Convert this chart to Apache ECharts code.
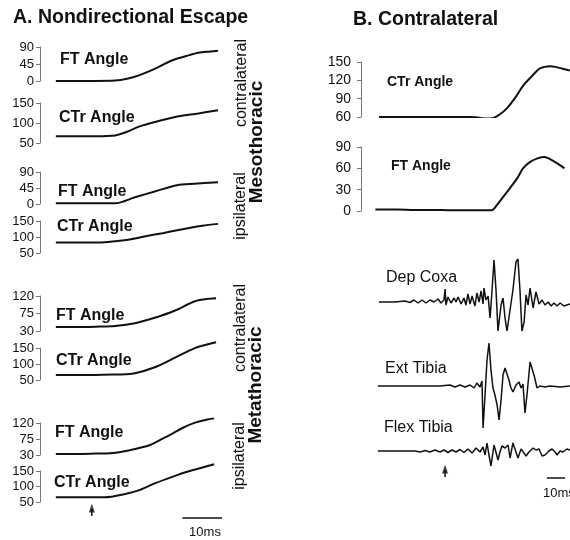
<!DOCTYPE html>
<html><head><meta charset="utf-8">
<script src="https://cdn.jsdelivr.net/npm/echarts/dist/echarts.min.js"></script>
<style>html,body{margin:0;padding:0;background:#fff}#c{width:570px;height:540px}</style>
</head><body><div id="c"></div>
<script>
// ---------- DATA (time in ms, angles in degrees) ----------
// Panel A: Nondirectional escape
const mesoContraFT  = [[0,0],[5,0],[10,0],[15,1],[18,6],[21,15],[25,32],[29,53],[33,66],[36,75],[39,78],[41,80]];
const mesoContraCTr = [[0,67],[5,67],[10,67],[15,69],[18,78],[21,91],[26,105],[31,117],[36,124],[41,132]];
const mesoIpsiFT    = [[0,2],[5,2],[10,2],[15,2],[20,19],[25,35],[30.6,53],[35,57],[41,61]];
const mesoIpsiCTr   = [[0,83],[5,83],[11,83],[15,87],[19,93],[23,103],[27,112],[31,122],[34,129],[37,135],[41,141]];
const metaContraFT  = [[0,40],[5,40],[10,41],[15,43],[20,50],[25,64],[30,82],[35,106],[38,112],[40.5,114]];
const metaContraCTr = [[0,66],[5,66],[10,66],[15,67],[17.5,68],[20,71],[25,90],[30,119],[35,149],[38,160],[40.5,168]];
const metaIpsiFT    = [[0,33],[5,33],[10,34],[13.7,35],[17,40],[20,47],[23.8,58],[27,76],[29.6,91],[32,106],[35.2,121],[38,129],[40,133]];
const metaIpsiCTr   = [[0,65],[5,65],[12.4,65],[17,74],[21.3,89],[25,110],[29.6,132],[33,147],[36.4,159],[40,172]];

// Panel B: Contralateral
const bCTr = [[0,60],[10,60],[20,60],[30,60],[40,60],[50,60],[54,59.5],[57,58],[60,57.5],[64,59],[67,64],[71,74],[76,93],[80,111],[85,127],[89,139],[92,142],[95,143],[98,142],[102,139],[106,136]];
const bFT  = [[-2,2],[10,2],[20,1.5],[30,1.5],[40,1],[50,1],[60,1],[62.6,1],[66,10],[69,20],[73,33],[77,47],[80,60],[84,69],[88,74],[92,76],[95,73],[99,67],[103,60]];

// EMG (relative amplitude)
const depCoxa = [[0,0],[8.9,0],[14.4,1],[17.2,-0.5],[19.4,2],[21.7,-1],[23.9,2],[26.1,-1],[28.3,2],[30.6,0],[32.8,3],[34.4,-1],[36.1,2],[36.7,13],[37.2,-3],[38.3,5],[40,-1],[41.7,4],[42.8,0],[43.9,5],[45.6,-2],[47.2,4],[48.3,-3],[49.4,8],[50.6,-2],[51.7,6],[53.3,-4],[54.4,9],[55.6,0],[56.7,11],[57.8,-2],[58.3,14],[59.4,2],[60.6,6],[61.7,-16],[62.8,12],[63.9,42],[65,12],[66.1,-29],[67.8,-3],[68.9,4],[70,-16],[71.1,-29],[72.8,-8],[74.4,12],[76.1,40],[77.2,43],[78.3,12],[79.4,-29],[80.6,-20],[81.7,7],[82.8,-3],[83.9,14],[85.6,-6],[87.2,10],[88.9,-2],[90.6,2],[92.2,-3],[93.9,0],[95.6,-4],[97.2,-1],[98.9,-4],[100.6,-1],[102.8,-4],[106.1,-2]];
const extTibia = [[-0.6,0],[22.8,0],[33.9,0],[39.4,1],[42.2,-1],[45,1],[47.8,-1],[50.6,1],[52.8,-2],[54.4,3],[56.1,-1],[57.2,5],[57.8,-42],[58.9,-9],[60,26],[61.1,43],[62.2,16],[63.3,-2],[64.4,-9],[65.6,-19],[66.7,-34],[67.8,-14],[68.9,11],[70,18],[71.1,19],[72.2,6],[73.3,-2],[74.4,-6],[76.1,1],[77.8,4],[78.9,-2],[80,2],[81.1,-27],[82.2,-9],[83.9,24],[85,26],[86.1,11],[87.8,-2],[89.4,0],[92.2,-1],[95,0],[100.6,-1],[106.1,0]];
const flexTibia = [[-0.6,0],[20,0],[22.8,-1],[25.6,0.5],[28.3,-1],[31.1,1],[33.9,-1],[36.1,1],[38.3,-1.5],[40.6,1],[42.8,-1],[45,1.5],[47.2,-1.5],[49.4,2],[51.7,-2],[53.9,3],[56.1,-1],[57.8,4],[58.9,-4],[60,8],[61.1,-4],[62.2,-15],[62.8,-17],[63.9,6],[65,7],[66.1,-9],[67.2,-1],[68.3,5],[70,3],[71.7,6],[72.8,-7],[74.4,8],[76.1,-1],[77.2,-7],[78.9,2],[80,1],[81.7,-5],[83.3,-1],[85.6,3],[87.2,1],[88.9,2],[90.6,-5],[92.2,-4],[94.4,0],[96.1,2],[97.8,-1],[98.9,-4],[100.6,0],[102.2,-1],[104.4,2],[106.1,1]];

// Tick labels
const ticksFT = [0,45,90];
const ticksCTr = [50,100,150];
const ticksFTmeta = [30,75,120];
const ticksB_CTr = [60,90,120,150];
const ticksB_FT = [0,30,60,90];

// Stimulus markers and scale bars (ms)
const stimA = 9.1, stimB = 36.7;
const scaleBarA = [32,42], scaleBarB = [93.3,103.3];

// ---------- CHART ----------
const FONT = "'Liberation Sans', Arial, Helvetica, sans-serif";
const INK = '#111';
const grids = [], xAxes = [], yAxes = [], series = [];

function axisY(i, ticks, fs, margin) {
  return {gridIndex:i, type:'value', min:ticks[0], max:ticks[ticks.length-1],
    axisLine:{show:true, onZero:false, lineStyle:{color:'#777', width:1}},
    axisTick:{show:true, length:4, customValues:ticks, lineStyle:{color:'#777'}},
    axisLabel:{show:true, customValues:ticks, fontSize:fs, color:INK, fontFamily:FONT, margin:margin},
    splitLine:{show:false}};
}
function hiddenY(i, mn, mx) {
  return {gridIndex:i, type:'value', min:mn, max:mx, show:false, splitLine:{show:false}};
}
function addLine(i, data, w, smooth) {
  series.push({type:'line', xAxisIndex:i, yAxisIndex:i, data:data, showSymbol:false,
    smooth:smooth, clip:false, silent:true, lineStyle:{color:INK, width:w}});
}

// Panel A
const aSpecs = [
  [mesoContraFT, ticksFT, 47, 34],
  [mesoContraCTr, ticksCTr, 103, 40],
  [mesoIpsiFT, ticksFT, 172, 32],
  [mesoIpsiCTr, ticksCTr, 221, 32],
  [metaContraFT, ticksFTmeta, 296, 35],
  [metaContraCTr, ticksCTr, 348, 32],
  [metaIpsiFT, ticksFTmeta, 423, 32],
  [metaIpsiCTr, ticksCTr, 471, 31]
];
aSpecs.forEach(function(s){
  const i = grids.length;
  grids.push({left:40, width:182, top:s[2], height:s[3]});
  xAxes.push({gridIndex:i, type:'value', min:-4, max:42, show:false});
  yAxes.push(axisY(i, s[1], 13, 6));
  addLine(i, s[0], 2, 0.3);
});
// Panel A annotations
(function(){
  const i = grids.length;
  grids.push({left:40, width:182, top:500, height:20});
  xAxes.push({gridIndex:i, type:'value', min:-4, max:42, show:false});
  yAxes.push(hiddenY(i, 0, 20));
  addLine(i, [[stimA,4],[stimA,11]], 1.5, false);
  series.push({type:'scatter', xAxisIndex:i, yAxisIndex:i, data:[[stimA,12]], symbol:'triangle', symbolSize:[6,9], itemStyle:{color:INK}, silent:true});
  addLine(i, [[scaleBarA[0],2],[scaleBarA[1],2]], 1.5, false);
})();

// Panel B
const bSpecs = [
  [bCTr, ticksB_CTr, 62, 55],
  [bFT, ticksB_FT, 147, 64]
];
bSpecs.forEach(function(s){
  const i = grids.length;
  grids.push({left:361, right:0, top:s[2], height:s[3]});
  xAxes.push({gridIndex:i, type:'value', min:-10, max:106.1, show:false});
  yAxes.push(axisY(i, s[1], 14, 10));
  series.push({type:'line', xAxisIndex:i, yAxisIndex:i, data:s[0], showSymbol:false, smooth:0.3, clip:true, silent:true, lineStyle:{color:INK, width:2}});
});
const emgSpecs = [
  [depCoxa, 257, 85, -40, 45],
  [extTibia, 341, 90, -45, 45],
  [flexTibia, 436, 35, -20, 15]
];
emgSpecs.forEach(function(s){
  const i = grids.length;
  grids.push({left:361, right:0, top:s[1], height:s[2]});
  xAxes.push({gridIndex:i, type:'value', min:-10, max:106.1, show:false});
  yAxes.push(hiddenY(i, s[3], s[4]));
  series.push({type:'line', xAxisIndex:i, yAxisIndex:i, data:s[0], showSymbol:false, smooth:false, clip:true, silent:true, lineStyle:{color:INK, width:1.5}});
});
(function(){
  const i = grids.length;
  grids.push({left:361, right:0, top:460, height:20});
  xAxes.push({gridIndex:i, type:'value', min:-10, max:106.1, show:false});
  yAxes.push(hiddenY(i, 0, 20));
  addLine(i, [[stimB,3],[stimB,10]], 1.5, false);
  series.push({type:'scatter', xAxisIndex:i, yAxisIndex:i, data:[[stimB,11]], symbol:'triangle', symbolSize:[6,9], itemStyle:{color:INK}, silent:true});
  addLine(i, [[scaleBarB[0],2],[scaleBarB[1],2]], 1.5, false);
})();

function txt(t, x, y, font, opts) {
  opts = opts || {};
  return {type:'text', x:x, y:y, rotation:opts.rot || 0, silent:true,
    style:{text:t, font:font, fill:INK, textAlign:opts.align || 'left', align:opts.align || 'left',
      textVerticalAlign:'middle', verticalAlign:'middle'}};
}
const B16 = "bold 16px " + FONT, B14 = "bold 14px " + FONT, R16 = "16px " + FONT, B19 = "bold 19px " + FONT;
const V = {rot:Math.PI/2, align:'center'};
const graphic = [
  txt('A. Nondirectional Escape', 13, 18, "bold 19.5px " + FONT),
  txt('B. Contralateral', 353, 20, "bold 19.5px " + FONT),
  txt('FT Angle', 60, 60, B16), txt('CTr Angle', 59, 118, B16),
  txt('FT Angle', 58, 192, B16), txt('CTr Angle', 57, 227, B16),
  txt('FT Angle', 56, 316, B16), txt('CTr Angle', 56, 361, B16),
  txt('FT Angle', 55, 433, B16), txt('CTr Angle', 54, 483, B16),
  txt('contralateral', 242, 83, R16, V),
  txt('Mesothoracic', 257, 142, B19, V),
  txt('ipsilateral', 241, 206, R16, V),
  txt('contralateral', 241, 328, R16, V),
  txt('Metathoracic', 256, 385, B19, V),
  txt('ipsilateral', 240, 456, R16, V),
  txt('10ms', 205, 532, "13px " + FONT, {align:'center'}),
  txt('CTr Angle', 387, 82, B14), txt('FT Angle', 391, 166, B14),
  txt('Dep Coxa', 386, 278, R16), txt('Ext Tibia', 385, 369, R16), txt('Flex Tibia', 384, 428, R16),
  txt('10ms', 543, 493, "13px " + FONT)
];

const chart = echarts.init(document.getElementById('c'), null, {renderer:'canvas'});
chart.setOption({
  animation:false, backgroundColor:'#fff',
  grid:grids, xAxis:xAxes, yAxis:yAxes, series:series, graphic:graphic
});
</script></body></html>
